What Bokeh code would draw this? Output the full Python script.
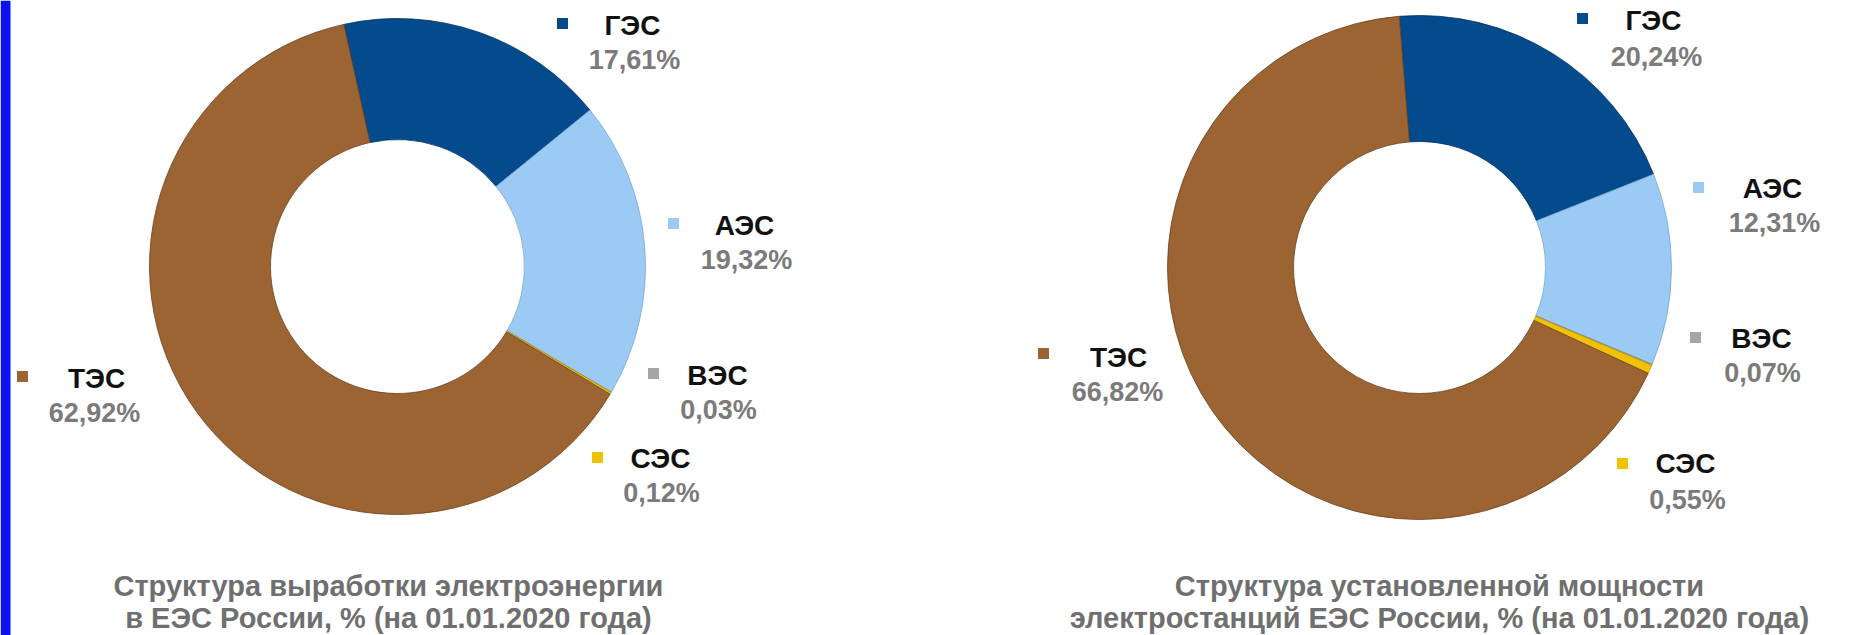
import numpy as np
from bokeh.plotting import figure
from bokeh.models import Range1d, ColumnDataSource
from bokeh.embed import file_html
from bokeh.resources import INLINE
from bokeh.core.properties import value

# ---------------- data ----------------
categories = ["ГЭС", "АЭС", "ВЭС", "СЭС", "ТЭС"]
generation_share = [17.61, 19.32, 0.03, 0.12, 62.92]
capacity_share = [20.24, 12.31, 0.07, 0.55, 66.82]
generation_labels = ["17,61%", "19,32%", "0,03%", "0,12%", "62,92%"]
capacity_labels = ["20,24%", "12,31%", "0,07%", "0,55%", "66,82%"]
generation_title = ["Структура  выработки  электроэнергии",
                    "в  ЕЭС России, %  (на 01.01.2020 года)"]
capacity_title = ["Структура  установленной  мощности",
                  "электростанций  ЕЭС России, %  (на 01.01.2020 года)"]

# ---------------- styles / layout ----------------
W, H = 1861, 635
colors = ["#034b8d", "#9bcaf5", "#a5a5a5", "#f2c200", "#9b6432"]
edge_colors = ["#02345f", "#7aa6cf", "#808080", "#c9a000", "#6b4220"]
FONT = "Liberation Sans"

charts = [
    dict(values=generation_share, labels=generation_labels, title=generation_title,
         cx=397, cy=266, r_out=248, r_in=127, start=-12.5, title_x=396,
         marker=[(562, 23), (673, 223), (653, 373), (597, 457), (22, 376)],
         name=[(632, 25), (744, 225), (717, 375), (660, 458), (96, 378)],
         pct=[(634, 59), (746, 259), (718, 409), (661, 492), (94, 412)]),
    dict(values=capacity_share, labels=capacity_labels, title=capacity_title,
         cx=1419, cy=267, r_out=252, r_in=126, start=-4.6, title_x=1447,
         marker=[(1582, 18), (1698, 187), (1695, 337), (1622, 463), (1043, 353)],
         name=[(1653, 20), (1772, 188), (1761, 338), (1685, 463), (1118, 357)],
         pct=[(1656, 56), (1774, 222), (1762, 372), (1687, 499), (1117, 391)]),
]

p = figure(width=W, height=H, x_range=Range1d(0, W), y_range=Range1d(0, H),
           toolbar_location=None, output_backend="svg",
           x_axis_location=None, y_axis_location=None, min_border=0)
p.grid.visible = False
p.outline_line_color = None
p.background_fill_color = "white"
p.border_fill_color = "white"

# blue strip at left edge
p.quad(left=0, right=10, bottom=0, top=H, fill_color="#0a10f0", line_color=None)

for ch in charts:
    vals = np.array(ch["values"], dtype=float)
    frac = vals / vals.sum()
    cum = np.concatenate([[0.0], np.cumsum(frac)])
    # clockwise-from-top angle -> bokeh angle (ccw from +x)
    th0 = np.radians(ch["start"]) + cum[:-1] * 2 * np.pi
    th1 = np.radians(ch["start"]) + cum[1:] * 2 * np.pi
    src = ColumnDataSource(dict(
        cat=categories, val=vals,
        start=np.pi / 2 - th0, end=np.pi / 2 - th1,
        color=colors, edge=edge_colors,
    ))
    cx, cy = ch["cx"], H - ch["cy"]
    p.annular_wedge(x=cx, y=cy, inner_radius=ch["r_in"], outer_radius=ch["r_out"],
                    start_angle="start", end_angle="end", direction="clock",
                    fill_color="color", line_color="edge", line_width=0.8,
                    source=src)

    lab = ColumnDataSource(dict(
        mx=[m[0] for m in ch["marker"]], my=[H - m[1] for m in ch["marker"]],
        nx=[n[0] for n in ch["name"]], ny=[H - n[1] for n in ch["name"]],
        px=[q[0] for q in ch["pct"]], py=[H - q[1] for q in ch["pct"]],
        cat=categories, pct=ch["labels"], color=colors,
    ))
    p.scatter(x="mx", y="my", marker="square", size=11, fill_color="color",
              line_color=None, source=lab)
    p.text(x="nx", y="ny", text="cat", source=lab, text_align="center",
           text_baseline="middle", text_font=value(FONT), text_font_style="bold",
           text_font_size="28px", text_color="#111111")
    p.text(x="px", y="py", text="pct", source=lab, text_align="center",
           text_baseline="middle", text_font=value(FONT), text_font_style="bold",
           text_font_size="27px", text_color="#7b7b7b")

    tsrc = ColumnDataSource(dict(x=[ch["title_x"]] * 2, y=[H - 585, H - 617],
                                 t=ch["title"]))
    p.text(x="x", y="y", text="t", source=tsrc, text_align="center",
           text_baseline="middle", text_font=value(FONT), text_font_style="bold",
           text_font_size="29px", text_color="#6f6f6f")

open("out.html", "w").write(file_html(p, INLINE))
